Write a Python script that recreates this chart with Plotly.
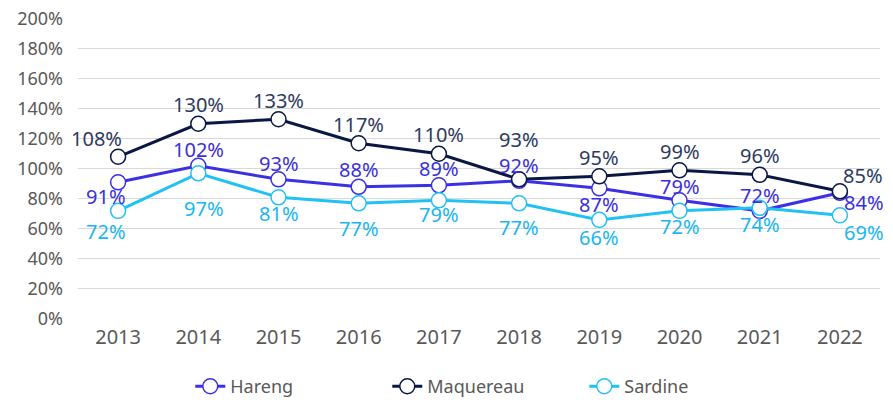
import plotly.graph_objects as go

# ── Data ─────────────────────────────────────────────────────
YEARS     = ["2013", "2014", "2015", "2016", "2017", "2018", "2019", "2020", "2021", "2022"]
HARENG    = [91, 102, 93, 88, 89, 92, 87, 79, 72, 84]
MAQUEREAU = [108, 130, 133, 117, 110, 93, 95, 99, 96, 85]
SARDINE   = [72, 97, 81, 77, 79, 77, 66, 72, 74, 69]
Y_TICKS   = list(range(0, 201, 20))

# ── Colours ──────────────────────────────────────────────────
C_HAR  = "#3b30e3"
C_MAQ  = "#0a1742"
C_SAR  = "#22c1f4"
T_HAR  = "#3a2fdc"
T_MAQ  = "#2c3a60"
T_SAR  = "#1ab6f0"
GRID   = "#d9d9d9"
TEXT   = "#595959"
FONT   = "Noto Sans, Roboto, sans-serif"

# label offsets (xshift, yshift) in px, per point
OFF_HAR = [(-12, -14), (0, 16), (0, 16), (0, 17), (0, 17), (0, 15), (0, -16), (0, 14), (0, 15), (24, -10)]
OFF_MAQ = [(-22, 18), (0, 19), (0, 19), (0, 19), (0, 19), (0, 40), (0, 19), (0, 19), (0, 19), (23, 16)]
OFF_SAR = [(-12, -21), (6, -35), (0, -16), (0, -25), (0, -14), (0, -24), (0, -18), (0, -16), (0, -17), (24, -17)]

series = [
    ("Hareng", HARENG, C_HAR, T_HAR, OFF_HAR),
    ("Maquereau", MAQUEREAU, C_MAQ, T_MAQ, OFF_MAQ),
    ("Sardine", SARDINE, C_SAR, T_SAR, OFF_SAR),
]

fig = go.Figure()
annotations = []
for name, vals, col, tcol, offs in series:
    fig.add_trace(go.Scatter(
        x=YEARS, y=vals, name=name,
        mode="lines+markers",
        line=dict(color=col, width=3),
        marker=dict(symbol="circle", size=15, color="white", line=dict(color=col, width=1.5)),
    ))
    # category index for annotations (string "2013" would be read as a number)
    for i, (v, (dx, dy)) in enumerate(zip(vals, offs)):
        annotations.append(dict(
            x=i, y=v, text=f"{v}%", showarrow=False,
            xshift=dx, yshift=dy,
            font=dict(color=tcol, size=20, family=FONT),
        ))

fig.update_layout(
    width=893, height=400,
    paper_bgcolor="white", plot_bgcolor="white",
    font=dict(family=FONT, color=TEXT, size=17),
    margin=dict(l=78, r=13, t=18, b=81, autoexpand=False),
    showlegend=True,
    legend=dict(
        orientation="h", x=0.14, xanchor="left", y=-0.163, yanchor="top",
        font=dict(size=18, color=TEXT), itemwidth=30,
        entrywidth=152,
    ),
    xaxis=dict(
        type="category", range=[-0.5, len(YEARS) - 0.5], automargin=False,
        showgrid=False, showline=False, zeroline=False,
        tickfont=dict(size=20, color=TEXT), ticks="", ticklabelstandoff=4,
    ),
    yaxis=dict(
        range=[0, 200.4], tickvals=Y_TICKS, ticktext=[f"{t}%" for t in Y_TICKS],
        automargin=False, ticklabeloverflow="allow",
        showgrid=True, gridcolor=GRID, gridwidth=1, zeroline=False,
        tickfont=dict(size=18, color=TEXT), ticks="", ticklabelstandoff=14,
    ),
    annotations=annotations,
)

# drop the browser's default 8px body margin so the figure fills the window
fig.write_html(
    "out.html",
    config={"displayModeBar": False},
    post_script="document.body.style.margin='0';",
)
